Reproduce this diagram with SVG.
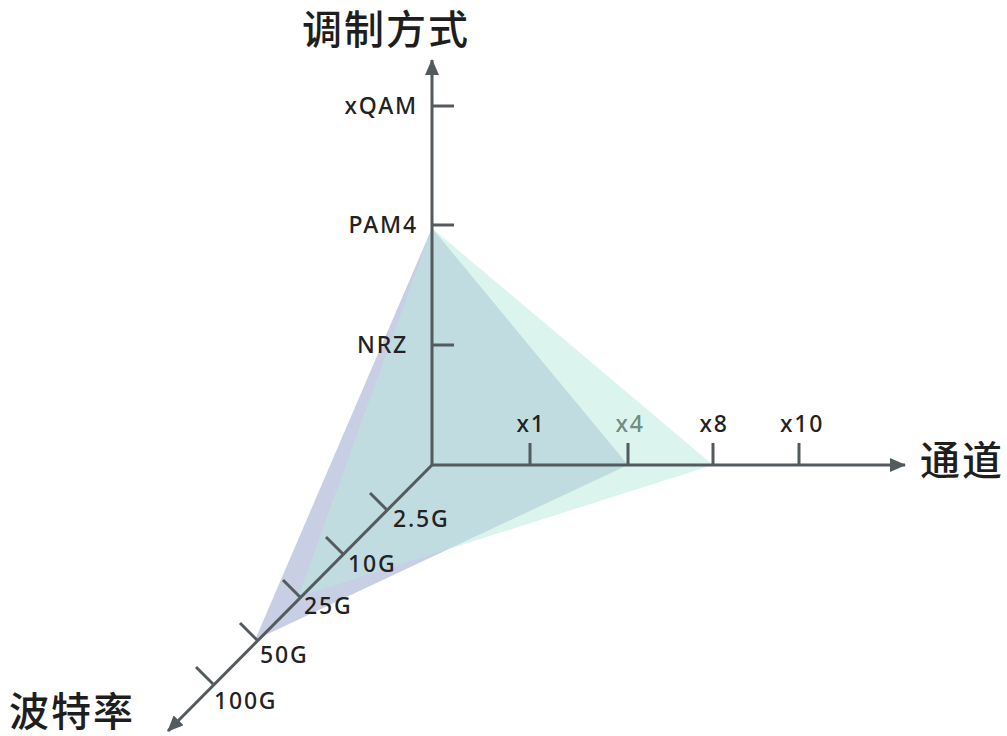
<svg xmlns="http://www.w3.org/2000/svg" width="1007" height="736" viewBox="0 0 1007 736">
<defs>
<style>
.axis{stroke:#535b5f;stroke-width:3;fill:none}
.tick{stroke:#535b5f;stroke-width:3;fill:none}
.lbl{font-family:"Noto Sans","DejaVu Sans",sans-serif;font-size:23px;font-weight:500;fill:#222;letter-spacing:1.8px}
.title{font-family:"Noto Sans CJK SC","Noto Sans",sans-serif;font-size:40px;font-weight:500;fill:#1e1e1e;letter-spacing:2px}
</style>
<marker id="arr" viewBox="0 0 16 14" refX="15" refY="7" markerWidth="16" markerHeight="14" markerUnits="userSpaceOnUse" orient="auto">
<path d="M0,0 L16,7 L0,14 z" fill="#535b5f"/>
</marker>
</defs>
<rect width="1007" height="736" fill="#fff"/>
<g id="faces">
<polygon points="432,228 255,640 628,465" fill="#c8cfe5"/>
<polygon points="432,228 298,597 713,465" fill="#b9e9dd" fill-opacity="0.5"/>
</g>
<g id="connectors">
<line class="axis" x1="432" y1="466" x2="432" y2="60" marker-end="url(#arr)"/>
<line class="axis" x1="431" y1="465" x2="905" y2="465" marker-end="url(#arr)"/>
<line class="axis" x1="432" y1="465" x2="168" y2="731" marker-end="url(#arr)"/>
</g>
<g id="ticks">
<line class="tick" x1="432" y1="106" x2="454" y2="106"/>
<line class="tick" x1="432" y1="225" x2="454" y2="225"/>
<line class="tick" x1="432" y1="345" x2="454" y2="345"/>
<line class="tick" x1="530" y1="465" x2="530" y2="443"/>
<line class="tick" x1="628" y1="465" x2="628" y2="443"/>
<line class="tick" x1="713" y1="465" x2="713" y2="443"/>
<line class="tick" x1="799" y1="465" x2="799" y2="443"/>
<line class="tick" x1="387" y1="510" x2="370" y2="493"/>
<line class="tick" x1="343" y1="554" x2="326" y2="537"/>
<line class="tick" x1="300" y1="597" x2="283" y2="580"/>
<line class="tick" x1="257" y1="640" x2="240" y2="623"/>
<line class="tick" x1="213" y1="684" x2="196" y2="667"/>
</g>
<g id="node-mod">
<text class="title" x="302" y="44">调制方式</text>
<text class="lbl" x="418" y="114" text-anchor="end">xQAM</text>
<text class="lbl" x="418" y="233" text-anchor="end">PAM4</text>
<text class="lbl" x="408" y="353" text-anchor="end">NRZ</text>
</g>
<g id="node-chan">
<text class="title" x="920" y="475">通道</text>
<text class="lbl" x="531" y="432" text-anchor="middle">x1</text>
<text class="lbl" x="630" y="432" text-anchor="middle" style="fill:#718c86">x4</text>
<text class="lbl" x="714" y="432" text-anchor="middle">x8</text>
<text class="lbl" x="802" y="432" text-anchor="middle">x10</text>
</g>
<g id="node-baud">
<text class="title" x="9" y="726">波特率</text>
<text class="lbl" x="393" y="527">2.5G</text>
<text class="lbl" x="348" y="572">10G</text>
<text class="lbl" x="304" y="614">25G</text>
<text class="lbl" x="260" y="663">50G</text>
<text class="lbl" x="214" y="709">100G</text>
</g>
</svg>
